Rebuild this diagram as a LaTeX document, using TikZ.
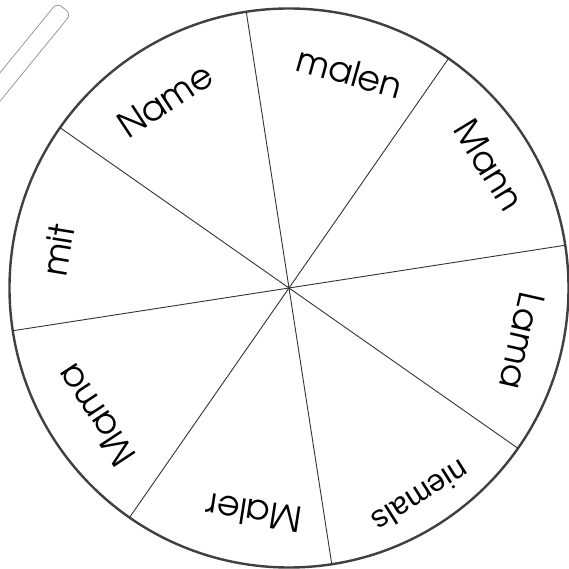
\documentclass[tikz,border=0pt]{standalone}
\usepackage{fontspec}
\usetikzlibrary{calc}
\setmainfont{texgyreadventor-regular.otf}
\newfontfamily\plainsans{Liberation Sans}
\begin{document}
\begin{tikzpicture}[x=1pt,y=1pt,
  rim/.style={draw=black!75,line width=2.4pt},
  spoke/.style={draw=black!80,line width=0.9pt},
  word/.style={font=\fontsize{35}{35}\selectfont,text=black,inner sep=0pt},
  smallword/.style={font=\plainsans\fontsize{31}{31}\selectfont,text=black,inner sep=0pt},
  strip/.style={draw=black!40,line width=0.8pt,rounded corners=6pt}]
\useasboundingbox (0,0) rectangle (569,569);
\clip (0,0) rectangle (569,569);
\fill[white] (0,0) rectangle (569,569);
% pencil-like strip
\begin{scope}[shift={(64,560.5)},rotate=230.8]
  \draw[strip] (0,-9) rectangle (220,9);
\end{scope}
\coordinate (c) at (289,281);
\node[circle,rim,minimum size=559pt,inner sep=0pt] (wheel) at (c) {};
\foreach \a [count=\i] in {8.8,55.2,98.8,145.0}{
  \coordinate (p\i) at ($(c)+(\a:279.5)$);
  \coordinate (q\i) at ($(c)+(\a+180:279.5)$);
  \draw[spoke] (p\i) -- (q\i);
}
\node[word,rotate=33.4] (name) at ($(c)+(123.4:225)$) {Name};
\node[word,rotate=-15.8] (malen) at ($(c)+(74.2:224)$) {malen};
\node[word,rotate=-58.5] (mann) at ($(c)+(31.5:235)$) {Mann};
\node[word,rotate=-102.8] (lama) at ($(c)+(-12.8:239)$) {Lama};
\node[smallword,rotate=-147.7] (niemals) at ($(c)+(-57.7:246.7)$) {niemals};
\node[word,rotate=171.2] (maler) at ($(c)+(261.2:227.7)$) {Maler};
\node[word,rotate=123.4] (mama) at ($(c)+(213.4:231)$) {Mama};
\node[word,rotate=80.7] (mit) at ($(c)+(170.7:234)$) {mit};
\end{tikzpicture}
\end{document}
